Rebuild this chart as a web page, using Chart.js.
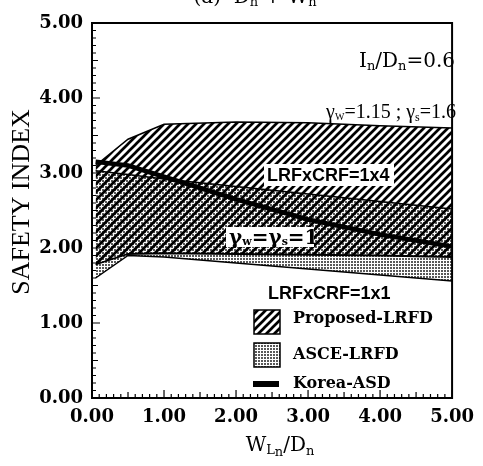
<!DOCTYPE html>
<html>
<head>
<meta charset="utf-8">
<script src="https://cdn.jsdelivr.net/npm/chart.js@4"></script>
<style>
  body { margin: 0; background: #fff; }
</style>
</head>
<body>
<canvas id="chart" width="483" height="466"></canvas>
<script>
// values (W_Ln/D_n vs safety index)
const xs = [0.05, 0.5, 1.0, 2.0, 3.0, 4.0, 5.0];
const proposedUpper = [3.10, 3.45, 3.65, 3.68, 3.67, 3.63, 3.60];
const proposedLower = [1.78, 1.92, 1.93, 1.92, 1.91, 1.90, 1.88];
const asceUpper = [3.03, 2.98, 2.92, 2.82, 2.72, 2.62, 2.52];
const asceLower = [1.60, 1.90, 1.88, 1.80, 1.72, 1.64, 1.56];
const koreaAsd = [3.15, 3.10, 2.95, 2.65, 2.38, 2.18, 2.02];
const yTicks = [0, 1, 2, 3, 4, 5];

const pts = arr => arr.map((v, i) => ({ x: xs[i], y: v }));

// hatch "//" pattern
function hatchPattern() {
  let c = document.createElement("canvas");
  c.width = c.height = 8;
  let g = c.getContext("2d");
  g.strokeStyle = "#000";
  g.lineWidth = 2.7;
  g.beginPath();
  g.moveTo(-1, 9); g.lineTo(9, -1);
  g.moveTo(-1, 1); g.lineTo(1, -1);
  g.moveTo(7, 9); g.lineTo(9, 7);
  g.stroke();
  return g.createPattern(c, "repeat");
}

// dotted pattern
function dotPattern() {
  let c = document.createElement("canvas");
  c.width = c.height = 3;
  let g = c.getContext("2d");
  g.fillStyle = "rgba(0,0,0,0.65)";
  g.fillRect(0, 0, 2, 2);
  return g.createPattern(c, "repeat");
}

const hatch = hatchPattern();
const dots = dotPattern();

// text made of runs (for subscripts)
function drawRuns(ctx, x, y, runs, align) {
  let w = 0;
  runs.forEach(r => { ctx.font = r.font; w += ctx.measureText(r.t).width; });
  let cx = align === "center" ? x - w / 2 : (align === "right" ? x - w : x);
  ctx.textAlign = "left";
  ctx.textBaseline = "alphabetic";
  runs.forEach(r => {
    ctx.font = r.font;
    ctx.fillText(r.t, cx, y + (r.dy || 0));
    cx += ctx.measureText(r.t).width;
  });
  return w;
}

const serif = "'DejaVu Serif', serif";
const times = "'Liberation Serif', serif";
const big = "20px " + serif;
const sub = "13px " + serif;

const decor = {
  id: "decor",
  afterDatasetsDraw(chart) {
    let ctx = chart.ctx;
    let a = chart.chartArea;
    let xs_ = chart.scales.x, ys_ = chart.scales.y;
    ctx.save();
    ctx.fillStyle = "#000";
    ctx.strokeStyle = "#000";

    // frame
    ctx.lineWidth = 2;
    ctx.strokeRect(a.left, a.top, a.right - a.left, a.bottom - a.top);

    // minor ticks inside, left and bottom
    ctx.lineWidth = 1.2;
    ctx.beginPath();
    for (let i = 0; i <= 50; i++) {
      let len = i % 10 === 0 ? 8 : (i % 5 === 0 ? 6 : 4);
      let py = ys_.getPixelForValue(i / 10);
      ctx.moveTo(a.left, py); ctx.lineTo(a.left + len, py);
      let px = xs_.getPixelForValue(i / 10);
      ctx.moveTo(px, a.bottom); ctx.lineTo(px, a.bottom - len);
    }
    ctx.stroke();

    // labels inside plot
    drawRuns(ctx, 455, 67, [
      { t: "I", font: big }, { t: "n", font: sub, dy: 3 },
      { t: "/D", font: big }, { t: "n", font: sub, dy: 3 },
      { t: "=0.6", font: big }
    ], "right");

    let tb = "20px " + times, ts = "12px " + times;
    drawRuns(ctx, 456, 118, [
      { t: "γ", font: tb }, { t: "W", font: "10px " + times, dy: 2 },
      { t: "=1.15 ; ", font: tb },
      { t: "γ", font: tb }, { t: "s", font: ts, dy: 3 },
      { t: "=1.6", font: tb }
    ], "right");

    // LRFxCRF=1x4 with white box
    ctx.font = "bold 18px 'Liberation Sans', sans-serif";
    ctx.fillStyle = "#fff";
    ctx.fillRect(264, 164, 130, 22);
    ctx.fillStyle = "#000";
    ctx.textAlign = "left";
    ctx.textBaseline = "middle";
    ctx.fillText("LRFxCRF=1x4", 267, 176);

    // gamma_w = gamma_s = 1 with white box
    ctx.fillStyle = "#fff";
    ctx.fillRect(226, 227, 88, 20);
    ctx.fillStyle = "#000";
    let gb = "bold 20px " + serif;
    let gs = "bold 11px " + serif;
    drawRuns(ctx, 229, 244, [
      { t: "γ", font: gb }, { t: "w", font: gs, dy: 1 },
      { t: "=", font: gb },
      { t: "γ", font: gb }, { t: "s", font: gs, dy: 1 },
      { t: "=1", font: gb }
    ], "left");

    ctx.font = "bold 18px 'Liberation Sans', sans-serif";
    ctx.textBaseline = "middle";
    ctx.fillText("LRFxCRF=1x1", 268, 294);

    // legend
    ctx.lineWidth = 1.5;
    ctx.fillStyle = hatch;
    ctx.fillRect(254, 310, 26, 24);
    ctx.strokeRect(254, 310, 26, 24);
    ctx.fillStyle = "#fff";
    ctx.fillRect(254, 343, 26, 24);
    ctx.fillStyle = dots;
    ctx.fillRect(254, 343, 26, 24);
    ctx.strokeRect(254, 343, 26, 24);
    ctx.fillStyle = "#000";
    ctx.fillRect(253, 381, 26, 6);
    ctx.font = "bold 16px " + serif;
    ctx.textBaseline = "middle";
    ctx.fillText("Proposed-LRFD", 293, 319);
    ctx.fillText("ASCE-LRFD", 293, 355);
    ctx.fillText("Korea-ASD", 293, 384);

    // axis titles
    ctx.save();
    ctx.translate(22, 202);
    ctx.rotate(-Math.PI / 2);
    ctx.font = "26px " + times;
    ctx.textAlign = "center";
    ctx.textBaseline = "middle";
    ctx.fillText("SAFETY INDEX", 0, 0);
    ctx.restore();

    drawRuns(ctx, 280, 451, [
      { t: "W", font: big }, { t: "L", font: sub, dy: 3 }, { t: "n", font: sub, dy: 5 },
      { t: "/D", font: big }, { t: "n", font: sub, dy: 4 }
    ], "center");

    // cut-off title at top
    drawRuns(ctx, 255, 3, [
      { t: "(a)  D", font: big }, { t: "n", font: sub, dy: 3 },
      { t: " + W", font: big }, { t: "n", font: sub, dy: 3 }
    ], "center");

    ctx.restore();
  }
};

const tickFont = { family: "'DejaVu Serif', serif", size: 18, weight: "bold" };

new Chart(document.getElementById("chart"), {
  type: "line",
  data: {
    datasets: [
      { label: "Proposed-LRFD", data: pts(proposedUpper), borderColor: "#000", borderWidth: 1.5,
        backgroundColor: hatch, fill: { target: 1 }, order: 2 },
      { label: "Proposed lower", data: pts(proposedLower), borderColor: "#000", borderWidth: 1.8,
        fill: false, order: 2 },
      { label: "ASCE-LRFD", data: pts(asceUpper), borderColor: "#000", borderWidth: 1.5,
        backgroundColor: dots, fill: { target: 3 }, order: 1 },
      { label: "ASCE lower", data: pts(asceLower), borderColor: "#000", borderWidth: 1.5,
        fill: false, order: 1 },
      { label: "Korea-ASD", data: pts(koreaAsd), borderColor: "#000", borderWidth: 4.5,
        fill: false, order: -1 }
    ]
  },
  options: {
    responsive: false,
    animation: false,
    layout: { padding: { top: 23, right: 18, left: 0, bottom: 0 } },
    elements: { point: { radius: 0 }, line: { tension: 0 } },
    plugins: { legend: { display: false }, tooltip: { enabled: false } },
    scales: {
      x: {
        type: "linear", min: 0, max: 5,
        afterFit: s => { s.height = 68; },
        grid: { display: false, drawTicks: false },
        border: { display: false },
        ticks: { stepSize: 1, padding: 9, color: "#000", font: tickFont,
          callback: v => v.toFixed(2) }
      },
      y: {
        min: 0, max: 5,
        afterFit: s => { s.width = 92; },
        afterBuildTicks: s => { s.ticks = yTicks.map(v => ({ value: v })); },
        grid: { display: false, drawTicks: false },
        border: { display: false },
        ticks: { padding: 9, color: "#000", font: tickFont,
          callback: v => v.toFixed(2) }
      }
    }
  },
  plugins: [decor]
});
</script>
</body>
</html>
